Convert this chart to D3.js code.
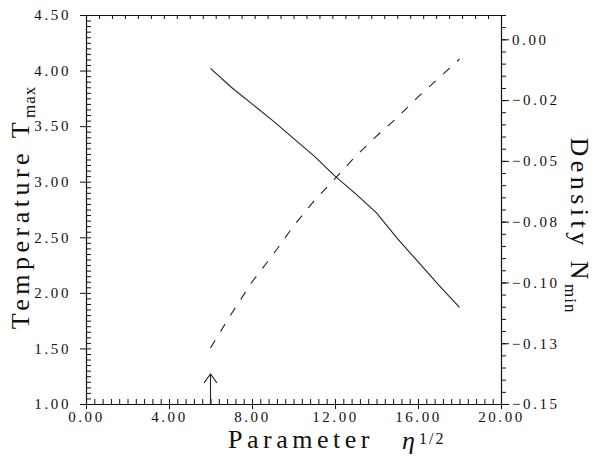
<!DOCTYPE html>
<html>
<head>
<meta charset="utf-8">
<script src="https://cdn.jsdelivr.net/npm/d3@7"></script>
<style>
    body { margin: 0; background: #fff; }
    text { font-family: "Liberation Serif", "Times New Roman", serif; fill: #111; }
    .tick text { font-size: 15px; letter-spacing: 2.6px; }
    .title { font-size: 26px; letter-spacing: 4.5px; }
    .domain { stroke: #111; stroke-width: 1.2; }
    .tick line { stroke: #111; stroke-width: 1; }
    .line { fill: none; stroke: #222; stroke-width: 1.1; }
</style>
</head>
<body>
<div id="chart"></div>
<script>
document.addEventListener("DOMContentLoaded", function(event) {

    // parameter eta^(1/2)
    var param = [6, 7, 8, 9, 10, 11, 12, 13, 14, 15, 16, 17, 18];
    // temperature T_max (left axis, solid)
    var tMax = [4.02, 3.85, 3.70, 3.55, 3.39, 3.23, 3.05, 2.89, 2.72, 2.49, 2.28, 2.07, 1.87];
    // density N_min (right axis, dashed)
    var nMin = [-0.1269, -0.1130, -0.0998, -0.0887, -0.0768, -0.0664, -0.0573,
                -0.0480, -0.0398, -0.0322, -0.0237, -0.0160, -0.0081];

    var xTicks = [0, 4, 8, 12, 16, 20];
    var leftTicks = [1.0, 1.5, 2.0, 2.5, 3.0, 3.5, 4.0, 4.5];
    var rightTicks = [0, -0.025, -0.05, -0.075, -0.1, -0.125, -0.15];
    var rightLabels = ["0.00", "\u22120.02", "\u22120.05", "\u22120.08", "\u22120.10", "\u22120.13", "\u22120.15"];
    var arrowAt = 6;

    var margin = { top: 15, right: 94, bottom: 55, left: 86 },
        width = 595 - margin.left - margin.right,
        height = 459 - margin.top - margin.bottom;

    var x = d3.scaleLinear().domain([0, 20]).range([0, width]);
    var y = d3.scaleLinear().domain([1, 4.5]).range([height, 0]);
    var y2 = d3.scaleLinear().domain([-0.15, 0.01]).range([height, 0]);

    var svg = d3.select("#chart").append("svg")
        .attr("width", 595)
        .attr("height", 459)
        .append("g")
        .attr("transform", "translate(" + margin.left + "," + margin.top + ")");

    function noLabels(axis) {
        return axis.tickFormat("");
    }

    // minor ticks
    var xMinor = d3.range(0, 20.001, 0.4);
    var topMinor = d3.range(0, 20.001, 0.625);
    var yMinor = d3.range(1, 4.5001, 0.05);
    var y2Minor = d3.range(-0.15, 0.0101, 0.005);

    svg.append("g")
        .attr("transform", "translate(0," + height + ")")
        .call(noLabels(d3.axisTop(x).tickValues(xMinor).tickSize(5)))
        .select(".domain").remove();

    svg.append("g")
        .call(noLabels(d3.axisBottom(x).tickValues(topMinor).tickSize(4).tickSizeOuter(0)));

    svg.append("g")
        .call(noLabels(d3.axisRight(y).tickValues(yMinor).tickSize(5)))
        .select(".domain").remove();

    svg.append("g")
        .attr("transform", "translate(" + width + ",0)")
        .call(noLabels(d3.axisRight(y2).tickValues(y2Minor).tickSize(5)))
        .select(".domain").remove();

    // Add the X Axis
    svg.append("g")
        .attr("transform", "translate(0," + height + ")")
        .call(d3.axisBottom(x).tickValues(xTicks).tickSize(5).tickSizeOuter(0)
            .tickPadding(2).tickFormat(d3.format(".2f")));

    // Add the Y Axis
    svg.append("g")
        .call(d3.axisLeft(y).tickValues(leftTicks).tickSize(6).tickSizeOuter(0)
            .tickPadding(9).tickFormat(d3.format(".2f")));

    // right axis
    svg.append("g")
        .attr("transform", "translate(" + width + ",0)")
        .call(d3.axisRight(y2).tickValues(rightTicks).tickSize(8).tickSizeOuter(0)
            .tickPadding(3).tickFormat(function(d, i) { return rightLabels[i]; }));

    svg.selectAll(".tick text").attr("fill", "#111");

    var line1 = d3.line()
        .x(function(d, i) { return x(param[i]); })
        .y(function(d) { return y(d); });

    var line2 = d3.line()
        .x(function(d, i) { return x(param[i]); })
        .y(function(d) { return y2(d); });

    svg.append("path")
        .data([tMax])
        .attr("class", "line")
        .attr("d", line1);

    svg.append("path")
        .data([nMin])
        .attr("class", "line")
        .style("stroke-dasharray", "9,10")
        .attr("d", line2);

    // arrow at the lower limit
    var ax = x(arrowAt);
    svg.append("line")
        .attr("x1", ax).attr("x2", ax)
        .attr("y1", height).attr("y2", height - 30)
        .style("stroke", "#222").style("stroke-width", 1.1);
    svg.append("polyline")
        .attr("points", (ax - 6.5) + "," + (height - 21) + " " + ax + "," + (height - 30) + " " + (ax + 6.5) + "," + (height - 21))
        .style("fill", "none").style("stroke", "#222").style("stroke-width", 1.1);

    // axis titles
    var tl = svg.append("text")
        .attr("class", "title")
        .attr("transform", "translate(" + (29 - margin.left) + "," + (height / 2 - 2) + ") rotate(-90)")
        .attr("text-anchor", "middle");
    tl.append("tspan").text("Temperature T");
    tl.append("tspan").attr("dy", 6).style("font-size", "17px").style("letter-spacing", "1px").text("max");

    var tr = svg.append("text")
        .attr("class", "title")
        .attr("transform", "translate(" + (width + 70) + "," + (height / 2 + 16) + ") rotate(90)")
        .attr("text-anchor", "middle");
    tr.append("tspan").text("Density N");
    tr.append("tspan").attr("dy", 6).style("font-size", "17px").style("letter-spacing", "1px").text("min");

    svg.append("text")
        .attr("class", "title")
        .attr("x", 142).attr("y", height + 44)
        .text("Parameter");

    svg.append("text")
        .attr("x", 316).attr("y", height + 45)
        .style("font-style", "italic")
        .style("font-size", "26px")
        .text("\u03b7");

    svg.append("text")
        .attr("x", 333).attr("y", height + 40)
        .style("font-size", "16px")
        .style("letter-spacing", "2px")
        .text("1/2");

})
</script>
</body>
</html>
